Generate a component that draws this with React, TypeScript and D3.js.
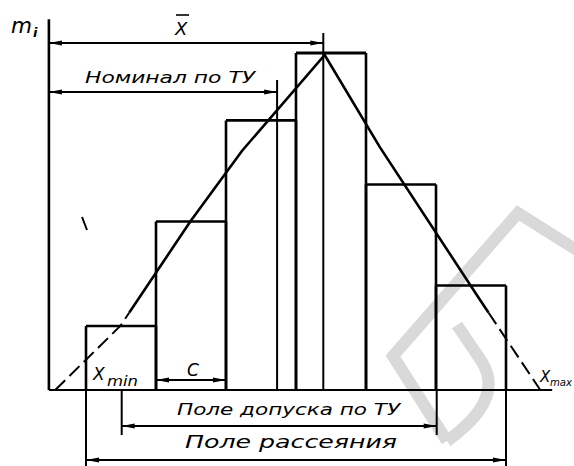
import React from "react";
import * as d3 from "d3";

// ---- data ----
const binEdges = [0, 1, 2, 3, 4, 5, 6];
const frequencies = [19, 50, 80, 100, 61, 31];
const curveX = [-0.44, 0.49, 1.49, 2.23, 3.41, 4.2, 5.63, 6.49];
const curveY = [0, 19, 50, 71, 99.4, 72, 26.7, 0];
const dashBelow = 23;
const xBarValue = 3.39;
const nominalValue = 2.73;
const toleranceRange = [0.51, 5.01];
const scatterRange = [0, 6];
const cRange = [1, 2];
const axisXRange = [-0.53, 6.66];
const axisYMax = 110;

const W = 574;
const H = 466;
const FONT = "'DejaVu Sans', 'Liberation Sans', sans-serif";

type Pt = [number, number];

function splitCurve(pts: Pt[], thr: number) {
  const segs: { dashed: boolean; pts: Pt[] }[] = [];
  let cur = { dashed: pts[0][1] < thr, pts: [pts[0]] as Pt[] };
  for (let i = 1; i < pts.length; i++) {
    const a = pts[i - 1];
    const b = pts[i];
    const da = a[1] < thr;
    const db = b[1] < thr;
    if (da !== db) {
      const t = (thr - a[1]) / (b[1] - a[1]);
      const m: Pt = [a[0] + t * (b[0] - a[0]), thr];
      cur.pts.push(m);
      segs.push(cur);
      cur = { dashed: db, pts: [m] };
    }
    cur.pts.push(b);
  }
  segs.push(cur);
  return segs;
}

function Arrow({ x, y, dir }: { x: number; y: number; dir: number }) {
  const L = 13;
  const w = 2.6;
  return (
    <path
      d={`M${x},${y} L${x - dir * L},${y - w} L${x - dir * L},${y + w} Z`}
      fill="#000"
    />
  );
}

function DimLine({ x1, x2, y }: { x1: number; x2: number; y: number }) {
  return (
    <g>
      <line x1={x1} x2={x2} y1={y} y2={y} stroke="#000" strokeWidth={1.8} />
      <Arrow x={x1} y={y} dir={-1} />
      <Arrow x={x2} y={y} dir={1} />
    </g>
  );
}

export default function App() {
  const x = d3.scaleLinear().domain([0, 6]).range([86, 506]);
  const y = d3.scaleLinear().domain([0, 100]).range([390, 53]);
  const base = y(0);
  const line = d3
    .line<Pt>()
    .x((d) => x(d[0]))
    .y((d) => y(d[1]));
  const pts: Pt[] = curveX.map((v, i) => [v, curveY[i]]);
  const segs = splitCurve(pts, dashBelow);
  const ax0 = x(axisXRange[0]);
  const ax1 = x(axisXRange[1]);
  const bars = frequencies.map((f, i) => ({
    x0: x(binEdges[i]),
    x1: x(binEdges[i + 1]),
    top: y(f),
  }));
  const sw = 2.6;

  return (
    <svg
      width={W}
      height={H}
      style={{ position: "absolute", left: 0, top: 0, background: "#fff" }}
      fontFamily={FONT}
    >
      <rect width={W} height={H} fill="#fff" />
      {/* watermark */}
      <g fill="none" stroke="#d9d9d9" strokeWidth={12} strokeLinejoin="miter">
        <path d="M580,252 L518,213 L393,356 L447,441" />
        <path d="M447,441 Q505,400 482,362 L457,325" />
      </g>

      {/* axes */}
      <line x1={ax0} x2={ax0} y1={y(axisYMax)} y2={base} stroke="#000" strokeWidth={sw} />
      <line x1={ax0} x2={ax1} y1={base} y2={base} stroke="#000" strokeWidth={2.2} />

      {/* bars */}
      {bars.map((b, i) => (
        <g key={i}>
          <line x1={b.x0} x2={b.x1} y1={b.top} y2={b.top} stroke="#000" strokeWidth={i === 3 ? 3.2 : sw} />
          <line x1={b.x0} x2={b.x0} y1={b.top} y2={base} stroke="#000" strokeWidth={sw} />
          <line x1={b.x1} x2={b.x1} y1={b.top} y2={base} stroke="#000" strokeWidth={sw} />
        </g>
      ))}

      {/* extension lines */}
      <line x1={x(xBarValue)} x2={x(xBarValue)} y1={33} y2={base} stroke="#000" strokeWidth={2} />
      <line x1={x(nominalValue)} x2={x(nominalValue)} y1={80} y2={base} stroke="#000" strokeWidth={2} />
      <line x1={x(toleranceRange[0])} x2={x(toleranceRange[0])} y1={base} y2={435} stroke="#000" strokeWidth={2} />
      <line x1={x(toleranceRange[1])} x2={x(toleranceRange[1])} y1={base} y2={435} stroke="#000" strokeWidth={2} />
      <line x1={x(scatterRange[0])} x2={x(scatterRange[0])} y1={base} y2={466} stroke="#000" strokeWidth={2} />
      <line x1={x(scatterRange[1])} x2={x(scatterRange[1])} y1={base} y2={466} stroke="#000" strokeWidth={2} />

      {/* curve */}
      {segs.map((s, i) => (
        <path
          key={i}
          d={line(s.pts) || ""}
          fill="none"
          stroke="#000"
          strokeWidth={s.dashed ? 2 : 2.6}
          strokeDasharray={s.dashed ? "14,6" : undefined}
        />
      ))}

      {/* dimension lines */}
      <DimLine x1={ax0} x2={x(xBarValue)} y={43} />
      <DimLine x1={ax0} x2={x(nominalValue)} y={92} />
      <DimLine x1={x(cRange[0])} x2={x(cRange[1])} y={380} />
      <DimLine x1={x(toleranceRange[0])} x2={x(toleranceRange[1])} y={426} />
      <DimLine x1={x(scatterRange[0])} x2={x(scatterRange[1])} y={460} />

      {/* stray mark */}
      <line x1={82} y1={217} x2={87} y2={230} stroke="#000" strokeWidth={2} />

      {/* labels */}
      <g fontStyle="italic" fill="#000">
        <text x={11} y={33} fontSize={21} textLength={21} lengthAdjust="spacingAndGlyphs">m</text>
        <text x={33} y={37} fontSize={13} fontWeight="bold">i</text>
        <text x={175} y={35} fontSize={18}>X</text>
        <line x1={176} x2={189} y1={15} y2={15} stroke="#000" strokeWidth={1.6} />
        <text x={85} y={83} fontSize={16} textLength={170} lengthAdjust="spacingAndGlyphs">Номинал по ТУ</text>
        <text x={187} y={376} fontSize={17}>C</text>
        <text x={93} y={380} fontSize={17}>X</text>
        <text x={107} y={386} fontSize={14} textLength={31} lengthAdjust="spacingAndGlyphs">min</text>
        <text x={177} y={415} fontSize={16} textLength={223} lengthAdjust="spacingAndGlyphs">Поле допуска по ТУ</text>
        <text x={185} y={448} fontSize={17} textLength={212} lengthAdjust="spacingAndGlyphs">Поле рассеяния</text>
        <text x={540} y={382} fontSize={15}>X</text>
        <text x={550} y={386} fontSize={11} textLength={22} lengthAdjust="spacingAndGlyphs">max</text>
      </g>
    </svg>
  );
}
